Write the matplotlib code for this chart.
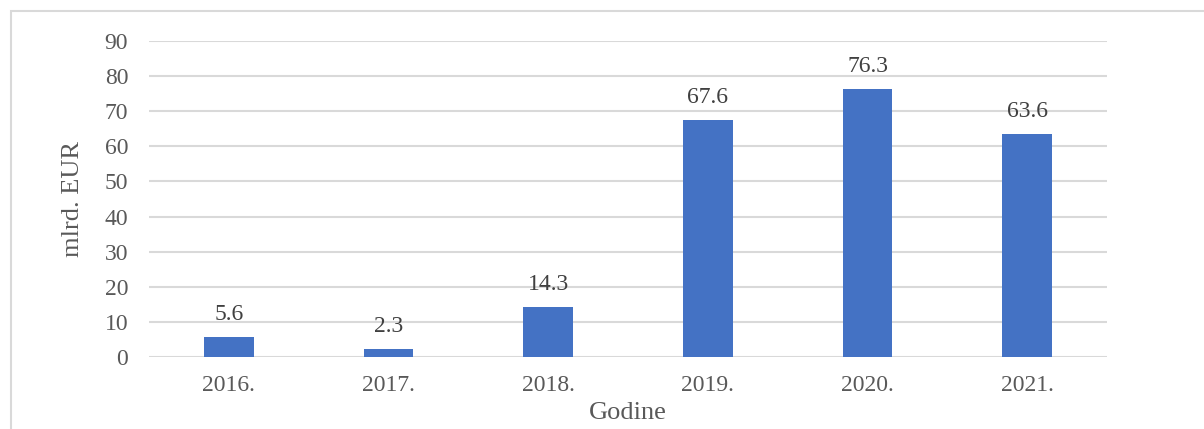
import matplotlib
matplotlib.use("Agg")
import matplotlib.pyplot as plt
from matplotlib.patches import Rectangle

years = ["2016.", "2017.", "2018.", "2019.", "2020.", "2021."]
values = [5.6, 2.3, 14.3, 67.6, 76.3, 63.6]
yticks = [0, 10, 20, 30, 40, 50, 60, 70, 80, 90]

plt.rcParams["font.family"] = ["Liberation Serif", "DejaVu Serif"]

W, H = 1204, 429
fig = plt.figure(figsize=(W / 100, H / 100), dpi=100)
ax = fig.add_axes([149 / W, 1 - 357 / H, (1107 - 149) / W, (357 - 41) / H])

# outer chart frame (cut off at right and bottom like the source)
fig.patches.append(Rectangle((11 / W, -0.2), 1.2, 1 - 11 / H + 0.2,
                             transform=fig.transFigure, fill=False,
                             edgecolor="#D9D9D9", linewidth=1.5))

x = range(len(years))
bars = ax.bar(x, values, width=0.31, color="#4472C4", zorder=3)
for xi, v in zip(x, values):
    ax.text(xi, v + 3.4, f"{v:.1f}", ha="center", va="bottom",
            fontsize=17, color="#404040")

ax.set_xlim(-0.5, len(years) - 0.5)
ax.set_ylim(0, 90)
ax.set_yticks(yticks)
ax.set_xticks(list(x))
ax.set_xticklabels(years)
ax.grid(axis="y", color="#D9D9D9", linewidth=1.5, zorder=0)
for s in ax.spines.values():
    s.set_visible(False)
ax.tick_params(length=0, labelsize=17, labelcolor="#595959")
ax.tick_params(axis="y", pad=15)
ax.tick_params(axis="x", pad=13)

ax.set_ylabel("mlrd. EUR", fontsize=19, color="#595959", labelpad=15)
ax.set_xlabel("Godine", fontsize=19, color="#595959", labelpad=4)

fig.savefig("out.png", dpi=100)
